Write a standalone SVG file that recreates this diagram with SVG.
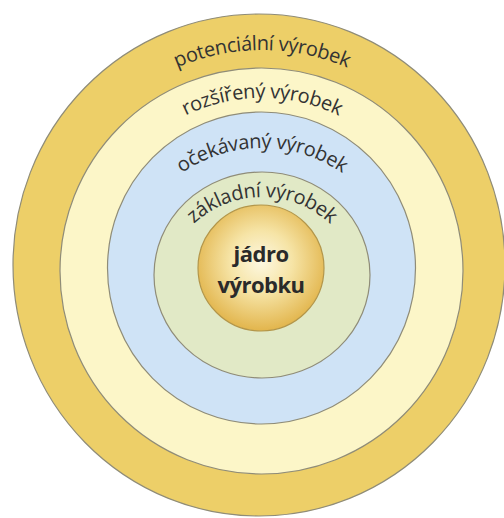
<svg xmlns="http://www.w3.org/2000/svg" xmlns:xlink="http://www.w3.org/1999/xlink" width="504" height="518" viewBox="0 0 504 518">
<style>
.ring{stroke:#8f8c78;stroke-width:1.2}
.lbl{font-family:"Open Sans","Noto Sans",sans-serif;font-size:20px;letter-spacing:-0.4px;fill:#333}
.core{font-family:"Open Sans","Noto Sans",sans-serif;font-size:22px;font-weight:bold;letter-spacing:-0.5px;fill:#2a2a2a}
</style>
<defs>
<radialGradient id="coreGrad" cx="0.5" cy="0.45" r="0.55">
<stop offset="0" stop-color="#fdf8e2"/>
<stop offset="0.45" stop-color="#f6e4a6"/>
<stop offset="1" stop-color="#e2b54c"/>
</radialGradient>
<path id="p1" d="M47 265 A215 215 0 0 1 477 265"/>
<path id="p2" d="M87 273 A175 175 0 0 1 437 273"/>
<path id="p3" d="M122 288 A140 140 0 0 1 402 288"/>
<path id="p4" d="M162 297 A100 100 0 0 1 362 297"/>
</defs>
<g id="potencialni">
<ellipse class="ring" cx="259" cy="265" rx="246" ry="251" fill="#edcf68"/>
<text class="lbl"><textPath xlink:href="#p1" href="#p1" startOffset="50%" text-anchor="middle">potenciální výrobek</textPath></text>
</g>
<g id="rozsireny">
<ellipse class="ring" cx="261.5" cy="271" rx="201.5" ry="203" fill="#fcf6c8"/>
<text class="lbl"><textPath xlink:href="#p2" href="#p2" startOffset="50%" text-anchor="middle">rozšířený výrobek</textPath></text>
</g>
<g id="ocekavany">
<ellipse class="ring" cx="261.5" cy="268" rx="154" ry="156" fill="#cfe3f6"/>
<text class="lbl"><textPath xlink:href="#p3" href="#p3" startOffset="50%" text-anchor="middle">očekávaný výrobek</textPath></text>
</g>
<g id="zakladni">
<ellipse class="ring" cx="262" cy="275" rx="108" ry="103" fill="#e1e9c6"/>
<text class="lbl"><textPath xlink:href="#p4" href="#p4" startOffset="50%" text-anchor="middle">základní výrobek</textPath></text>
</g>
<g id="jadro">
<circle cx="261" cy="268" r="63" fill="url(#coreGrad)" stroke="#b3964a" stroke-width="1.2"/>
<text class="core" x="261" y="262" text-anchor="middle">jádro</text>
<text class="core" x="261" y="293" text-anchor="middle">výrobku</text>
</g>
<g id="connectors"/>
</svg>
